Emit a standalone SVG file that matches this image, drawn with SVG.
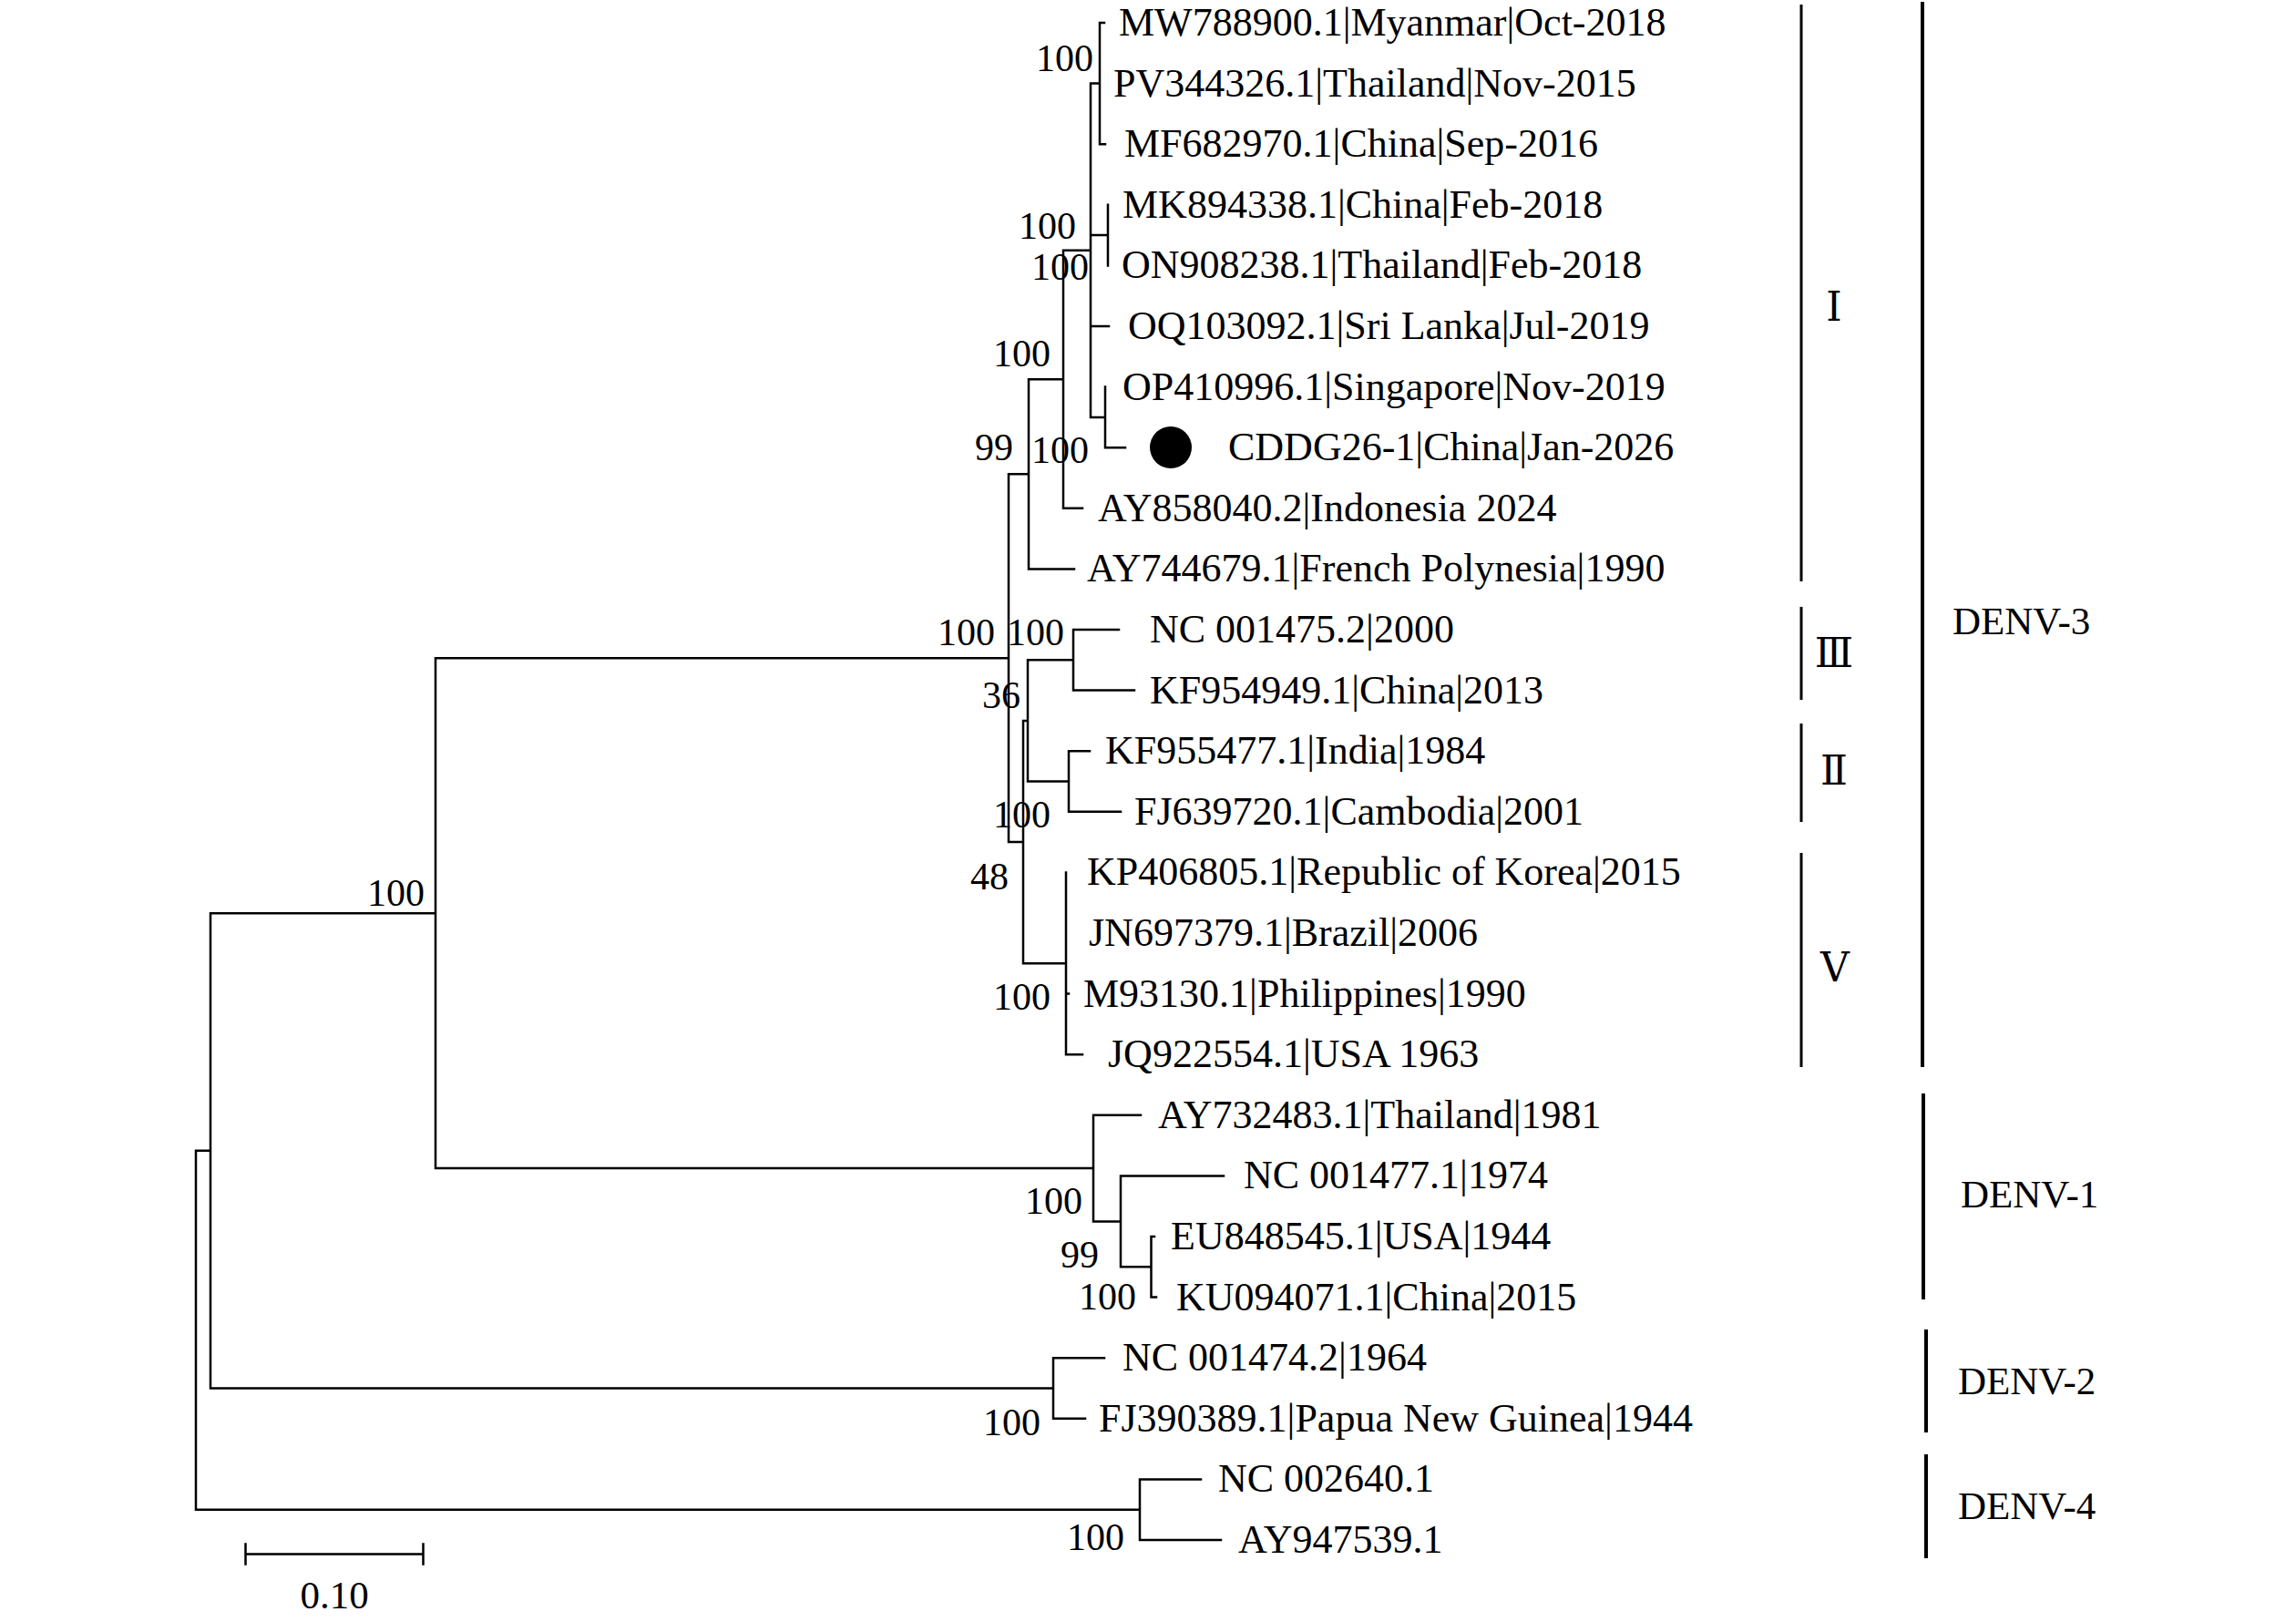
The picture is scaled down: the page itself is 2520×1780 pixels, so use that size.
<svg xmlns="http://www.w3.org/2000/svg" width="2520" height="1780" viewBox="0 0 2520 1780">
<style>
.br{fill:none;stroke:#000;stroke-width:2.5;stroke-linecap:square}
.bk{fill:none;stroke:#000;stroke-width:3}
.bk4{fill:none;stroke:#000;stroke-width:4}
text{font-family:"Liberation Serif","DejaVu Serif","Noto Sans CJK SC",serif;fill:#000}
.lf{font-size:44px}
.bs{font-size:42px;text-anchor:end}
.cl{font-size:43px}
.rn{font-size:44px;text-anchor:middle}
</style>
<rect width="2520" height="1780" fill="#fff"/>
<g id="connectors">
<path class="br" d="M215,1262.8V1656.7M215,1262.8H231M215,1656.7H1251
M231,1002.2V1523.5M231,1002.2H478M231,1523.5H1156
M478,722.2V1282.1M478,722.2H1107M478,1282.1H1200
M1107,520.3V924.1M1107,520.3H1129M1107,924.1H1123
M1129,416.3V624.4M1129,416.3H1167M1129,624.4H1179
M1167,274.8V557.8M1167,274.8H1197M1167,557.8H1188
M1197,91.6V457.9M1197,91.6H1207M1197,258.1H1216M1197,358H1217M1197,457.9H1213
M1207,25V158.2M1207,25H1212M1207,158.2H1213
M1216,224.8V291.4
M1213,424.6V491.2M1213,491.2H1235
M1123,790.9V1057.3M1123,790.9H1128M1123,1057.3H1170
M1128,724.3V857.5M1128,724.3H1178M1128,857.5H1173
M1178,691V757.6M1178,691H1228M1178,757.6H1245
M1173,824.2V890.8M1173,824.2H1196M1173,890.8H1230
M1170,957.4V1157.2M1170,1090.6H1173M1170,1157.2H1188
M1200,1223.8V1340.4M1200,1223.8H1252M1200,1340.4H1230
M1230,1290.4V1390.3M1230,1290.4H1343M1230,1390.3H1263.5
M1263.5,1357V1423.6M1263.5,1357H1267M1263.5,1423.6H1269
M1156,1490.2V1556.8M1156,1490.2H1212M1156,1556.8H1191
M1251,1623.4V1690M1251,1623.4H1318M1251,1690H1340"/>
</g>
<g id="bootstrap">
<text class="bs" x="1200" y="78">100</text>
<text class="bs" x="1181" y="262">100</text>
<text class="bs" x="1195" y="307">100</text>
<text class="bs" x="1153" y="402">100</text>
<text class="bs" x="1112" y="505">99</text>
<text class="bs" x="1195" y="508">100</text>
<text class="bs" x="1092" y="708">100</text>
<text class="bs" x="1168" y="708">100</text>
<text class="bs" x="1120" y="777">36</text>
<text class="bs" x="1153" y="908">100</text>
<text class="bs" x="1107" y="976">48</text>
<text class="bs" x="1153" y="1108">100</text>
<text class="bs" x="466" y="994">100</text>
<text class="bs" x="1188" y="1332">100</text>
<text class="bs" x="1206" y="1391">99</text>
<text class="bs" x="1247" y="1437">100</text>
<text class="bs" x="1142" y="1575">100</text>
<text class="bs" x="1234" y="1701">100</text>
</g>
<g id="leaf-MW788900"><text class="lf" x="1228" y="39">MW788900.1|Myanmar|Oct-2018</text></g>
<g id="leaf-PV344326"><text class="lf" x="1222" y="105.6">PV344326.1|Thailand|Nov-2015</text></g>
<g id="leaf-MF682970"><text class="lf" x="1234" y="172.2">MF682970.1|China|Sep-2016</text></g>
<g id="leaf-MK894338"><text class="lf" x="1232" y="238.8">MK894338.1|China|Feb-2018</text></g>
<g id="leaf-ON908238"><text class="lf" x="1231" y="305.4">ON908238.1|Thailand|Feb-2018</text></g>
<g id="leaf-OQ103092"><text class="lf" x="1238" y="372">OQ103092.1|Sri Lanka|Jul-2019</text></g>
<g id="leaf-OP410996"><text class="lf" x="1232" y="438.6">OP410996.1|Singapore|Nov-2019</text></g>
<g id="leaf-CDDG26-1"><circle cx="1285" cy="491" r="23" fill="#000"/><text class="lf" x="1348" y="505.2">CDDG26-1|China|Jan-2026</text></g>
<g id="leaf-AY858040"><text class="lf" x="1205" y="571.8">AY858040.2|Indonesia 2024</text></g>
<g id="leaf-AY744679"><text class="lf" x="1193" y="638.4">AY744679.1|French Polynesia|1990</text></g>
<g id="leaf-NC001475"><text class="lf" x="1262" y="705">NC 001475.2|2000</text></g>
<g id="leaf-KF954949"><text class="lf" x="1262" y="771.6">KF954949.1|China|2013</text></g>
<g id="leaf-KF955477"><text class="lf" x="1213" y="838.2">KF955477.1|India|1984</text></g>
<g id="leaf-FJ639720"><text class="lf" x="1245" y="904.8">FJ639720.1|Cambodia|2001</text></g>
<g id="leaf-KP406805"><text class="lf" x="1193" y="971.4">KP406805.1|Republic of Korea|2015</text></g>
<g id="leaf-JN697379"><text class="lf" x="1195" y="1038">JN697379.1|Brazil|2006</text></g>
<g id="leaf-M93130"><text class="lf" x="1189" y="1104.6">M93130.1|Philippines|1990</text></g>
<g id="leaf-JQ922554"><text class="lf" x="1216" y="1171.2">JQ922554.1|USA 1963</text></g>
<g id="leaf-AY732483"><text class="lf" x="1271" y="1237.8">AY732483.1|Thailand|1981</text></g>
<g id="leaf-NC001477"><text class="lf" x="1365" y="1304.4">NC 001477.1|1974</text></g>
<g id="leaf-EU848545"><text class="lf" x="1285" y="1371">EU848545.1|USA|1944</text></g>
<g id="leaf-KU094071"><text class="lf" x="1291" y="1437.6">KU094071.1|China|2015</text></g>
<g id="leaf-NC001474"><text class="lf" x="1232" y="1504.2">NC 001474.2|1964</text></g>
<g id="leaf-FJ390389"><text class="lf" x="1206" y="1570.8">FJ390389.1|Papua New Guinea|1944</text></g>
<g id="leaf-NC002640"><text class="lf" x="1337" y="1637.4">NC 002640.1</text></g>
<g id="leaf-AY947539"><text class="lf" x="1359" y="1704">AY947539.1</text></g>
<g id="clade-I"><path class="bk" d="M1977,5V638"/><text class="rn" x="2013" y="352">Ⅰ</text></g>
<g id="clade-III"><path class="bk" d="M1977,666V768"/><text class="rn" x="2013" y="732">Ⅲ</text></g>
<g id="clade-II"><path class="bk" d="M1977,794V902"/><text class="rn" x="2013" y="861">Ⅱ</text></g>
<g id="clade-V"><path class="bk" d="M1977,936V1171"/><text class="rn" x="2014" y="1077">Ⅴ</text></g>
<g id="clade-DENV-3"><path class="bk4" d="M2110,2V1171"/><text class="cl" x="2143" y="696">DENV-3</text></g>
<g id="clade-DENV-1"><path class="bk4" d="M2111,1200V1426"/><text class="cl" x="2152" y="1325">DENV-1</text></g>
<g id="clade-DENV-2"><path class="bk4" d="M2114,1459V1572"/><text class="cl" x="2149" y="1530">DENV-2</text></g>
<g id="clade-DENV-4"><path class="bk4" d="M2114,1596V1710"/><text class="cl" x="2149" y="1667">DENV-4</text></g>
<g id="scale-bar"><path class="br" d="M269.5,1705.5H464.5M269.5,1694.5V1716.5M464.5,1694.5V1716.5"/><text class="cl" x="367" y="1765" text-anchor="middle">0.10</text></g>
</svg>
